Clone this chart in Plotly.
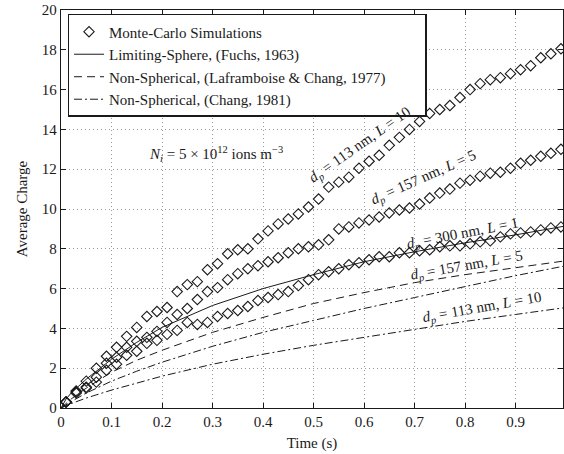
import plotly.graph_objects as go

# ---------------- data ----------------
mc_time = [0.01, 0.03, 0.05, 0.07, 0.09, 0.11, 0.13, 0.15, 0.17, 0.19,
           0.21, 0.23, 0.25, 0.27, 0.29, 0.31, 0.33, 0.35, 0.37, 0.39,
           0.41, 0.43, 0.45, 0.47, 0.49, 0.51, 0.53, 0.55, 0.57, 0.59,
           0.61, 0.63, 0.65, 0.67, 0.69, 0.71, 0.73, 0.75, 0.77, 0.79,
           0.81, 0.83, 0.85, 0.87, 0.89, 0.91, 0.93, 0.95, 0.97, 0.99]

mc_113_L10 = [0.3, 0.85, 1.35, 2.0, 2.6, 3.05, 3.6, 4.05, 4.6, 4.85,
              5.05, 5.85, 6.2, 6.35, 6.95, 7.25, 7.75, 7.95, 8.0, 8.5,
              8.9, 9.25, 9.5, 9.75, 10.1, 10.5, 11.1, 11.35, 11.6, 12.05,
              12.4, 12.7, 13.2, 13.6, 14.0, 14.4, 14.8, 15.0, 15.2, 15.6,
              16.0, 16.3, 16.5, 16.6, 16.8, 17.0, 17.2, 17.6, 17.8, 18.05]

mc_157_L5 = [0.3, 0.8, 1.05, 1.55, 2.25, 2.55, 3.05, 3.35, 3.55, 3.85,
             4.3, 4.7, 5.0, 5.45, 5.85, 6.05, 6.45, 6.75, 7.0, 7.15,
             7.35, 7.55, 7.8, 8.0, 8.1, 8.2, 8.45, 9.0, 9.1, 9.3,
             9.45, 9.6, 9.8, 9.95, 10.05, 10.25, 10.55, 10.8, 11.0, 11.3,
             11.45, 11.65, 11.8, 11.85, 12.05, 12.3, 12.45, 12.65, 12.8, 13.0]

mc_300_L1 = [0.3, 0.75, 1.0, 1.3, 1.9, 2.2, 2.65, 2.85, 3.25, 3.4,
             3.7, 3.9, 4.3, 4.2, 4.3, 4.6, 4.75, 4.9, 5.1, 5.4,
             5.55, 5.7, 5.85, 6.15, 6.45, 6.7, 6.85, 7.0, 7.2, 7.3,
             7.45, 7.6, 7.6, 7.8, 7.8, 7.9, 7.95, 8.1, 8.15, 8.15,
             8.25, 8.35, 8.4, 8.6, 8.75, 8.8, 8.85, 8.95, 9.05, 9.1]

curve_time = [0.0, 0.01, 0.02, 0.05, 0.1, 0.15, 0.2, 0.3, 0.4, 0.5,
              0.6, 0.7, 0.8, 0.9, 1.0]
fuchs_300 = [0.0, 0.45, 0.75, 1.45, 2.45, 3.3, 4.05, 5.15, 6.0, 6.7,
             7.35, 7.85, 8.3, 8.7, 9.15]
lafr_157 = [0.0, 0.25, 0.45, 1.0, 1.8, 2.4, 2.9, 3.8, 4.55, 5.25,
            5.8, 6.3, 6.7, 7.05, 7.4]
chang_157 = [0.0, 0.18, 0.32, 0.75, 1.35, 1.85, 2.3, 3.1, 3.8, 4.4,
             5.0, 5.55, 6.1, 6.65, 7.15]
chang_113 = [0.0, 0.12, 0.22, 0.5, 0.9, 1.25, 1.6, 2.2, 2.7, 3.15,
             3.55, 3.95, 4.35, 4.7, 5.05]

x_ticks = [0, 0.1, 0.2, 0.3, 0.4, 0.5, 0.6, 0.7, 0.8, 0.9]
x_ticklabels = ["0", "0.1", "0.2", "0.3", "0.4", "0.5", "0.6", "0.7", "0.8", "0.9"]

legend_names = ["Monte-Carlo Simulations",
                "Limiting-Sphere, (Fuchs, 1963)",
                "Non-Spherical, (Laframboise &amp; Chang, 1977)",
                "Non-Spherical, (Chang, 1981)"]

# ---------------- figure ----------------
FONT = "Liberation Serif, Times New Roman, serif"
INK = "#1a1a1a"
fig = go.Figure()

marker = dict(symbol="diamond-open", size=8, color=INK, line=dict(width=1.1, color=INK))
for i, ys in enumerate([mc_113_L10, mc_157_L5, mc_300_L1]):
    fig.add_trace(go.Scatter(x=mc_time, y=ys, mode="markers", marker=marker,
                             name=legend_names[0], legendgroup="mc",
                             showlegend=(i == 0)))

fig.add_trace(go.Scatter(x=curve_time, y=fuchs_300, mode="lines",
                         line=dict(color=INK, width=1, dash="solid"),
                         name=legend_names[1]))
fig.add_trace(go.Scatter(x=curve_time, y=lafr_157, mode="lines",
                         line=dict(color=INK, width=1, dash="8px,5px"),
                         name=legend_names[2] + "&nbsp;" * 9))
for i, ys in enumerate([chang_157, chang_113]):
    fig.add_trace(go.Scatter(x=curve_time, y=ys, mode="lines",
                             line=dict(color=INK, width=1, dash="8px,3px,2px,3px"),
                             name=legend_names[3], legendgroup="chang",
                             showlegend=(i == 0)))

ann_font = dict(family=FONT, size=15, color=INK)
annotations = [
    dict(x=0.306, y=12.75, text="<i>N<sub>i</sub></i> = 5 × 10<sup>12</sup> ions m<sup>−3</sup>",
         textangle=0, font=dict(family=FONT, size=15, color=INK)),
    dict(x=0.593, y=13.2, text="<i>d<sub>p</sub></i> = 113 nm, <i>L</i> = 10", textangle=-35),
    dict(x=0.718, y=11.55, text="<i>d<sub>p</sub></i> = 157 nm, <i>L</i> = 5", textangle=-24),
    dict(x=0.795, y=8.75, text="<i>d<sub>p</sub></i> = 300 nm, <i>L</i> = 1", textangle=-11),
    dict(x=0.803, y=7.14, text="<i>d<sub>p</sub></i> = 157 nm, <i>L</i> = 5", textangle=-10),
    dict(x=0.833, y=5.03, text="<i>d<sub>p</sub></i> = 113 nm, <i>L</i> = 10", textangle=-10),
]
for a in annotations:
    a.setdefault("font", ann_font)
    fig.add_annotation(xref="x", yref="y", showarrow=False, **a)

axis_common = dict(showline=True, linecolor=INK, linewidth=1.3, mirror="ticks",
                   ticks="inside", ticklen=5, tickcolor=INK,
                   showgrid=True, gridcolor="#9a9a9a", griddash="1px,3px", gridwidth=1,
                   zeroline=False, automargin=False,
                   tickfont=dict(family=FONT, size=15, color=INK))

fig.update_xaxes(range=[0, 0.994], tickvals=x_ticks, ticktext=x_ticklabels,
                 title=dict(text="Time (s)", font=dict(family=FONT, size=15, color=INK),
                            standoff=8),
                 **axis_common)
fig.update_yaxes(range=[0, 20], dtick=2,
                 title=dict(text="Average Charge", font=dict(family=FONT, size=15, color=INK),
                            standoff=10),
                 **axis_common)

fig.update_layout(
    width=564, height=454,
    margin=dict(l=61, r=1, t=10, b=46),
    plot_bgcolor="white", paper_bgcolor="white",
    font=dict(family=FONT, size=15, color=INK),
    legend=dict(x=0.013, y=0.99, xanchor="left", yanchor="top",
                bgcolor="white", bordercolor=INK, borderwidth=1.5,
                font=dict(family=FONT, size=15, color=INK),
                itemwidth=30, tracegroupgap=0,
                traceorder="normal"),
    showlegend=True,
)

fig.write_html("out.html", config={"displayModeBar": False},
               post_script="document.body.style.margin='0';")
